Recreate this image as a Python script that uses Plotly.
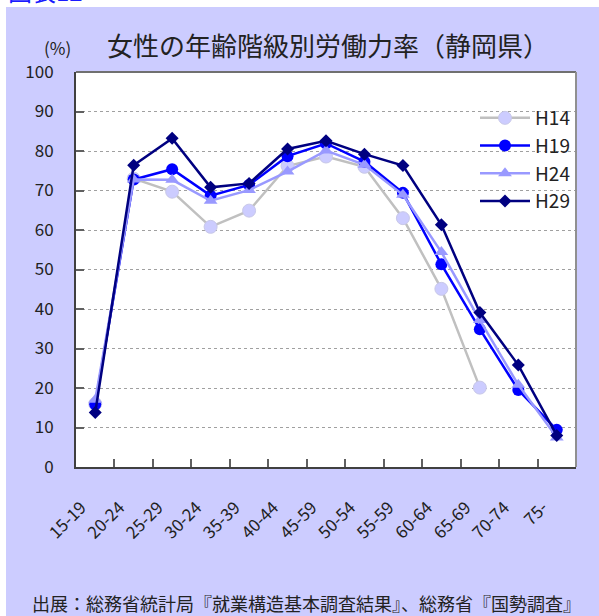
import plotly.graph_objects as go

categories = ["15-19", "20-24", "25-29", "30-24", "35-39", "40-44", "45-59",
              "50-54", "55-59", "60-64", "65-69", "70-74", "75-"]
h14 = [16.0, 73.0, 69.7, 60.8, 64.9, 76.2, 78.6, 76.0, 63.0, 45.1, 20.1, None, None]
h19 = [15.9, 72.8, 75.4, 68.7, 71.4, 78.7, 81.9, 77.3, 69.4, 51.3, 34.9, 19.5, 9.4]
h24 = [17.0, 72.8, 72.7, 67.4, 70.1, 74.8, 80.1, 76.5, 68.9, 54.4, 37.2, 20.8, 7.5]
h29 = [13.8, 76.4, 83.2, 70.8, 71.8, 80.5, 82.6, 79.2, 76.3, 61.3, 39.1, 25.8, 8.0]
y_ticks = [0, 10, 20, 30, 40, 50, 60, 70, 80, 90, 100]

W, H = 599, 616
L, R, T, B = 76, 23, 72, 149
pw, ph = W - L - R, H - T - B

def px_x(x):
    return (x - L) / pw

def px_y(y):
    return (H - B - y) / ph

font = "Noto Sans CJK JP"
LAV = "#CCCCFF"

fig = go.Figure()
fig.add_trace(go.Scatter(x=categories, y=h14, name="H14", mode="lines+markers",
                         line=dict(color="#C0C0C0", width=2.5),
                         marker=dict(symbol="circle", size=13, color="#CCCCFF",
                                     line=dict(color="#C8C8E8", width=1))))
fig.add_trace(go.Scatter(x=categories, y=h19, name="H19", mode="lines+markers",
                         line=dict(color="#0000FF", width=2.5),
                         marker=dict(symbol="circle", size=12, color="#0000FF")))
fig.add_trace(go.Scatter(x=categories, y=h24, name="H24", mode="lines+markers",
                         line=dict(color="#9999FF", width=2.5),
                         marker=dict(symbol="triangle-up", size=12, color="#9999FF")))
fig.add_trace(go.Scatter(x=categories, y=h29, name="H29", mode="lines+markers",
                         line=dict(color="#000080", width=2.5),
                         marker=dict(symbol="diamond", size=10, color="#000080")))

fig.update_layout(
    width=W, height=H,
    margin=dict(l=L, r=R, t=T, b=B, pad=0),
    paper_bgcolor=LAV, plot_bgcolor="white",
    font=dict(family=font, color="#222222"),
    showlegend=True,
    legend=dict(x=px_x(475), y=px_y(99), xanchor="left", yanchor="top",
                bgcolor="rgba(0,0,0,0)", font=dict(size=19, color="#222222"),
                itemwidth=50, tracegroupgap=0),
    xaxis=dict(type="category", range=[-0.5, 12.5], showgrid=False,
               showline=True, linecolor="#404040", linewidth=2, mirror=False,
               ticks="inside", ticklen=8, tickcolor="#606060", tickwidth=1.5,
               tickson="boundaries", tickangle=-45,
               tickfont=dict(size=17, color="#222222", family=font),
               ticklabelstandoff=22, ticklabelshift=-14),
    yaxis=dict(range=[0, 100], tickvals=y_ticks, showgrid=True,
               gridcolor="#A0A0A0", griddash="dot", gridwidth=1,
               showline=True, linecolor="#404040", linewidth=2, mirror=False,
               ticks="inside", ticklen=8, tickcolor="#606060", tickwidth=1.5,
               tickfont=dict(size=17, color="#222222", family=font),
               ticklabelstandoff=17, zeroline=False),
    shapes=[
        dict(type="rect", xref="paper", yref="paper", x0=px_x(-5), x1=px_x(W + 5),
             y0=px_y(7), y1=px_y(-5), fillcolor="white", line=dict(width=0), layer="below"),
        dict(type="rect", xref="paper", yref="paper", x0=px_x(-5), x1=px_x(6),
             y0=px_y(H + 5), y1=px_y(-5), fillcolor="white", line=dict(width=0), layer="below"),
        dict(type="line", xref="paper", yref="paper", x0=0, x1=1, y0=1, y1=1,
             line=dict(color="#707070", width=2)),
        dict(type="line", xref="paper", yref="paper", x0=1, x1=1, y0=0, y1=1,
             line=dict(color="#909090", width=2)),
    ],
    annotations=[
        dict(text="女性の年齢階級別労働力率（静岡県）", xref="paper", yref="paper",
             x=px_x(328), y=px_y(44), xanchor="center", yanchor="middle",
             showarrow=False, font=dict(size=26, color="#222222", family=font)),
        dict(text="(%)", xref="paper", yref="paper",
             x=px_x(57), y=px_y(48), xanchor="center", yanchor="middle",
             showarrow=False, font=dict(size=17, color="#222222", family=font)),
        dict(text="出展：総務省統計局『就業構造基本調査結果』、総務省『国勢調査』",
             xref="paper", yref="paper", x=px_x(306), y=px_y(603),
             xanchor="center", yanchor="middle", showarrow=False,
             font=dict(size=18, color="#222222", family=font)),
        dict(text="図表12", xref="paper", yref="paper", x=px_x(6), y=px_y(10),
             xanchor="left", yanchor="bottom", showarrow=False,
             font=dict(size=24, color="#1A1AFF", family=font)),
    ],
)

fig.write_html("out.html", config={"displayModeBar": False},
               post_script="document.body.style.margin='0';")
